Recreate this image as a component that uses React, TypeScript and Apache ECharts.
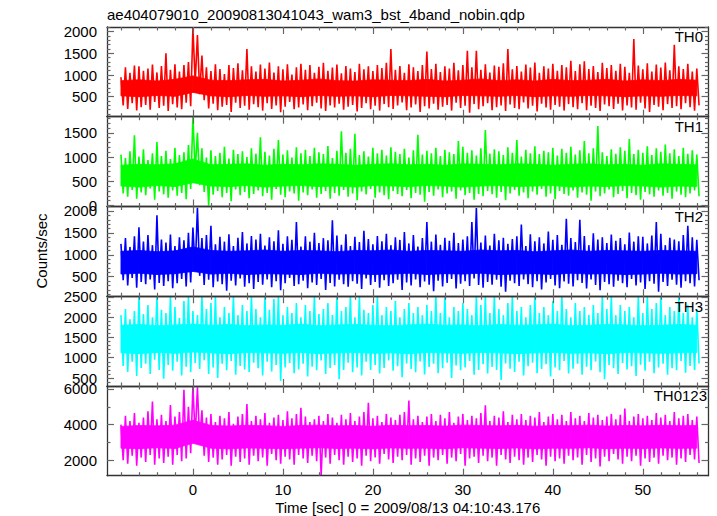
import React, { useEffect, useRef } from 'react';
import * as echarts from 'echarts';

// Time grid of the sampled light curves (seconds, 0 = 2009/08/13 04:10:43.176)
const TIME_START = -8;
const TIME_STEP = 0.5;
// Time grid of the dense core band (the solidly filled part of each curve)
const CORE_START = -8;
const CORE_STEP = 2;

// Local maxima / minima of the count rate in each half-second bin (counts/sec)
const th0Peaks = [
  950, 1180, 1050, 1220, 1200, 1100, 1150, 1240, 1060, 1210,
  1500, 1120, 1250, 1080, 1230, 1300, 2100, 1920, 1450, 1180,
  1090, 1250, 1140, 1020, 1230, 1160, 1270, 1110, 1600, 1200,
  1080, 1240, 1150, 1290, 1060, 1200, 1130, 1250, 1010, 1180,
  1260, 1120, 1230, 1050, 1190, 1280, 1100, 1170, 1240, 1040,
  1210, 1150, 1070, 1260, 1130, 1200, 1090, 1230, 1160, 1280,
  1600, 1120, 1210, 1050, 1250, 1180, 1090, 1230, 1540, 1140,
  1260, 1070, 1200, 1150, 1280, 1110, 1230, 1560, 1180, 1560,
  1120, 1250, 1060, 1220, 1190, 1270, 1600, 1130, 1210, 1080,
  1240, 1170, 1290, 1050, 1200, 1150, 1260, 1100, 1230, 1180,
  1330, 1090, 1250, 1315, 1140, 1210, 1070, 1280, 1160, 1230,
  1100, 1260, 1190, 1050, 1830, 1220, 1130, 1270, 1080, 1240,
  1170, 1290, 1110, 1700, 1200, 1140, 1260, 1080, 1150,
];
const th0Troughs = [
  300, 220, 350, 180, 260, 310, 200, 380, 240, 290,
  170, 330, 250, 210, 360, 280, 820, 560, 420, 230,
  340, 190, 270, 310, 150, 360, 240, 290, 200, 330,
  260, 180, 350, 220, 300, 140, 270, 380, 210, 250,
  320, 190, 280, 360, 230, 170, 300, 250, 340, 200,
  270, 310, 160, 240, 350, 210, 290, 180, 330, 260,
  220, 300, 370, 190, 250, 320, 150, 280, 230, 340,
  200, 270, 310, 180, 360, 240, 290, 130, 330, 210,
  280, 350, 190, 260, 300, 170, 320, 240, 210, 370,
  230, 290, 160, 340, 250, 200, 310, 270, 180, 330,
  260, 210, 350, 190, 290, 240, 170, 320, 280, 220,
  340, 180, 300, 250, 200, 360, 230, 150, 310, 270,
  190, 330, 240, 280, 210, 350, 260, 180, 300,
];
const th1Peaks = [
  1050, 980, 1120, 1450, 1010, 1160, 940, 1080, 1310, 1020,
  1130, 960, 1190, 1040, 1100, 1250, 1830, 1500, 1180, 990,
  1140, 1020, 1090, 1210, 970, 1150, 1060, 1120, 1000, 1180,
  1070, 1410, 1110, 1030, 1170, 1350, 1050, 1140, 990, 1200,
  1080, 1150, 1020, 1190, 1100, 1060, 1230, 980, 1130, 1535,
  1090, 1170, 1480, 1040, 1120, 1010, 1190, 1080, 1150, 1030,
  1200, 1110, 1060, 1170, 990, 1140, 1460, 1050, 1130, 1080,
  1190, 1020, 1150, 1100, 1060, 1330, 1210, 1090, 1140, 1030,
  1180, 1560, 1070, 1160, 1120, 1040, 1200, 1090, 1350, 1010,
  1150, 1080, 1220, 1060, 1130, 1100, 1190, 1030, 1170, 1090,
  1210, 1050, 1140, 1330, 1080, 1180, 1640, 1100, 1020, 1160,
  1070, 1200, 1130, 1370, 1060, 1150, 1090, 1220, 1040, 1180,
  1110, 1260, 1080, 1160, 1020, 1190, 1070, 1140, 1050,
];
const th1Troughs = [
  250, 180, 320, 140, 270, 210, 350, 120, 290, 230,
  160, 310, 200, 260, 130, 340, 700, 420, 280, 0,
  220, 300, 170, 260, 90, 330, 210, 280, 150, 240,
  310, 190, 260, 120, 340, 220, 170, 290, 250, 100,
  270, 210, 330, 160, 240, 300, 140, 260, 200, 320,
  180, 250, 110, 290, 230, 340, 160, 270, 210, 130,
  300, 240, 190, 320, 150, 260, 220, 80, 280, 200,
  330, 170, 250, 290, 140, 310, 210, 260, 120, 240,
  190, 300, 230, 160, 280, 110, 250, 320, 200, 270,
  150, 290, 220, 340, 180, 250, 130, 300, 240, 200,
  310, 160, 270, 220, 100, 290, 190, 250, 330, 170,
  240, 300, 150, 260, 210, 120, 280, 230, 180, 310,
  200, 260, 140, 290, 220, 170, 250, 310, 190,
];
const th2Peaks = [
  1250, 1380, 1180, 1420, 1630, 1300, 1450, 1220, 1900, 1350,
  1280, 1460, 1200, 1400, 1330, 1500, 1620, 2075, 1380, 1450,
  1660, 1240, 1410, 1300, 1470, 1200, 1390, 1520, 1260, 1430,
  1350, 1480, 1210, 1400, 1310, 1560, 1250, 1420, 1340, 1750,
  1190, 1420, 1300, 1500, 1270, 1380, 1330, 1790, 1440, 1230,
  1470, 1200, 1410, 1290, 1550, 1360, 1240, 1430, 1310, 1480,
  1220, 1400, 1340, 1520, 1260, 1450, 1190, 1380, 1750, 1300,
  1460, 1230, 1390, 1320, 1500, 1270, 1350, 1420, 1750, 2070,
  1280, 1440, 1210, 1480, 1330, 1390, 1250, 1360, 1420, 1690,
  1200, 1470, 1310, 1400, 1260, 1530, 1340, 1450, 1230, 1820,
  1380, 1290, 1800, 1430, 1220, 1490, 1350, 1400, 1270, 1460,
  1320, 1380, 1240, 1510, 1300, 1420, 1410, 1260, 1440, 1750,
  1480, 1220, 1390, 1350, 1310, 1450, 1660, 1400, 1340,
];
const th2Troughs = [
  420, 300, 470, 250, 380, 330, 440, 210, 360, 290,
  400, 240, 350, 450, 280, 370, 650, 520, 310, 430,
  260, 390, 330, 180, 410, 300, 460, 270, 350, 220,
  380, 320, 440, 260, 400, 190, 350, 470, 290, 330,
  410, 240, 370, 310, 450, 200, 360, 280, 430, 330,
  270, 400, 340, 220, 460, 310, 380, 250, 420, 290,
  350, 430, 200, 370, 300, 440, 260, 390, 320, 170,
  410, 280, 360, 450, 230, 340, 400, 290, 460, 310,
  250, 380, 320, 430, 270, 160, 410, 350, 290, 440,
  330, 260, 400, 210, 370, 450, 300, 240, 390, 340,
  280, 420, 360, 230, 440, 310, 190, 380, 330, 270,
  410, 350, 260, 450, 300, 370, 220, 400, 340, 160,
  380, 290, 430, 320, 250, 400, 350, 280, 420,
];
const th3Peaks = [
  2050, 2200, 1950, 2150, 2520, 2080, 2300, 2000, 2520, 2180,
  2100, 2520, 2250, 1980, 2400, 2520, 2150, 2050, 2520, 2200,
  2350, 2520, 2000, 2250, 2100, 2520, 2050, 2300, 2150, 2520,
  2200, 2000, 2520, 2180, 2450, 2520, 2050, 2250, 2100, 2350,
  2000, 2300, 2150, 2520, 2080, 2200, 2350, 2050, 2520, 2150,
  2250, 2520, 2000, 2520, 2180, 2100, 2300, 2520, 2050, 2250,
  2150, 2400, 2000, 2200, 2350, 2100, 2250, 2050, 2300, 2150,
  2520, 2100, 2520, 2000, 2250, 2150, 2350, 2200, 2050, 2520,
  2300, 2520, 2100, 2520, 2200, 2050, 2350, 2520, 2150, 2250,
  2000, 2300, 2520, 2100, 2250, 2050, 2400, 2150, 2520, 2200,
  2000, 2350, 2150, 2250, 2050, 2300, 2100, 2520, 2200, 2520,
  2050, 2300, 2150, 2250, 2000, 2520, 2100, 2520, 2200, 2350,
  2520, 2050, 2250, 2150, 2520, 2100, 2300, 2000, 2200,
];
const th3Troughs = [
  800, 650, 900, 550, 750, 850, 600, 950, 700, 480,
  820, 680, 900, 560, 780, 640, 870, 720, 940, 600,
  760, 500, 850, 690, 920, 580, 800, 710, 650, 880,
  740, 560, 900, 660, 820, 430, 760, 870, 620, 710,
  850, 540, 780, 690, 930, 600, 750, 820, 470, 700,
  880, 640, 760, 560, 900, 700, 820, 610, 750, 930,
  680, 790, 520, 860, 720, 640, 910, 590, 770, 850,
  620, 740, 880, 500, 810, 690, 760, 920, 580, 700,
  840, 610, 770, 700, 450, 860, 730, 650, 900, 560,
  790, 880, 620, 720, 840, 540, 760, 690, 920, 610,
  730, 850, 580, 780, 690, 910, 640, 470, 820, 740,
  600, 870, 710, 790, 550, 830, 680, 900, 620, 760,
  850, 580, 740, 690, 920, 630, 800, 700, 860,
];
const th0123Peaks = [
  4000, 4500, 4200, 4650, 4100, 4400, 4750, 5300, 4300, 4550,
  4200, 5100, 4450, 4700, 5950, 5000, 6170, 6100, 4800, 4400,
  4600, 4150, 4500, 4350, 4700, 4050, 4450, 4600, 5150, 4200,
  4500, 4300, 4650, 4100, 4400, 4550, 4250, 4750, 4350, 4600,
  4950, 4450, 4150, 4300, 4500, 4200, 4600, 4400, 4100, 4550,
  4300, 4650, 4200, 4450, 4700, 5230, 4350, 4500, 4150, 4600,
  4400, 4250, 4550, 4700, 5350, 4300, 4500, 4150, 4450, 4600,
  4200, 4550, 4350, 4700, 4100, 4450, 4600, 4250, 4500, 4350,
  4650, 5080, 4200, 4500, 4400, 4750, 4150, 4550, 4300, 4600,
  4250, 4500, 4400, 4700, 4150, 4450, 4600, 4300, 4550, 4200,
  4700, 4350, 4500, 4200, 4650, 4400, 4550, 4250, 4450, 4600,
  4300, 4550, 4900, 4200, 4450, 4600, 4350, 4500, 4250, 4650,
  4400, 4550, 4200, 4700, 4350, 4500, 4600, 4250, 4450,
];
const th0123Troughs = [
  2000, 1800, 2250, 1700, 2150, 1900, 2300, 1750, 2100, 1850,
  2200, 1750, 2300, 1950, 2100, 2400, 3300, 3000, 2250, 1900,
  2150, 1750, 2050, 2300, 1700, 2200, 1900, 2100, 1750, 2250,
  1950, 2150, 1700, 2350, 2000, 1800, 2200, 2050, 1750, 2300,
  2100, 1850, 2250, 1950, 1150, 2150, 1800, 2300, 2000, 1750,
  2200, 1900, 2100, 1700, 2250, 1950, 2150, 1800, 2350, 2050,
  1850, 2200, 2000, 2300, 1750, 2100, 1900, 2250, 1700, 2150,
  2000, 2300, 1800, 2150, 1950, 2350, 1700, 2100, 2200, 1850,
  2250, 1950, 2150, 1700, 2300, 2050, 1850, 2200, 2000, 1750,
  2150, 1900, 2300, 2050, 1700, 2200, 1950, 2100, 1800, 2250,
  2000, 2150, 1750, 2300, 1900, 2100, 1650, 2200, 1950, 2350,
  2050, 1800, 2200, 1950, 2250, 1700, 2100, 1900, 2150, 1800,
  2250, 2000, 2150, 1750, 2100, 1900, 2300, 2050, 1850,
];

// Upper / lower edge of the fully saturated core of each curve, every 2 s (counts/sec)
const th0CoreHigh = [870, 890, 860, 900, 980, 880, 870, 890, 900, 860, 880, 910, 870, 860, 890, 880, 870, 900, 860, 880, 910, 870, 890, 860, 900, 870, 880, 900, 860, 890, 870, 900, 880];
const th0CoreLow = [520, 500, 530, 510, 600, 520, 500, 530, 510, 520, 500, 530, 510, 520, 500, 530, 520, 510, 500, 530, 520, 510, 530, 500, 520, 510, 530, 520, 500, 520, 510, 530, 520];
const th1CoreHigh = [830, 850, 840, 860, 960, 840, 850, 860, 830, 850, 840, 860, 850, 830, 850, 860, 840, 850, 830, 860, 850, 840, 860, 850, 830, 850, 860, 840, 850, 830, 860, 850, 840];
const th1CoreLow = [400, 380, 410, 390, 470, 400, 390, 410, 380, 400, 410, 390, 400, 380, 410, 400, 390, 410, 400, 380, 400, 410, 390, 400, 410, 380, 400, 390, 410, 400, 380, 400, 390];
const th2CoreHigh = [1080, 1100, 1070, 1090, 1180, 1100, 1080, 1090, 1110, 1080, 1100, 1090, 1070, 1100, 1090, 1110, 1080, 1100, 1090, 1080, 1110, 1090, 1100, 1070, 1090, 1110, 1080, 1100, 1090, 1080, 1100, 1090, 1080];
const th2CoreLow = [560, 580, 550, 570, 620, 560, 580, 550, 570, 560, 550, 580, 560, 570, 550, 560, 580, 550, 570, 560, 580, 550, 560, 570, 550, 580, 560, 570, 550, 560, 580, 560, 570];
const th3CoreHigh = [1800, 1820, 1790, 1810, 1830, 1800, 1820, 1790, 1810, 1800, 1830, 1790, 1810, 1820, 1800, 1790, 1810, 1830, 1800, 1810, 1790, 1820, 1800, 1810, 1830, 1790, 1800, 1820, 1810, 1790, 1800, 1820, 1800];
const th3CoreLow = [1120, 1100, 1130, 1110, 1140, 1120, 1100, 1130, 1120, 1110, 1130, 1100, 1120, 1130, 1110, 1120, 1100, 1130, 1120, 1110, 1130, 1120, 1100, 1120, 1130, 1110, 1120, 1100, 1130, 1120, 1110, 1120, 1130];
const th0123CoreHigh = [3900, 3950, 3930, 3970, 4250, 3950, 3920, 3960, 3940, 3900, 3950, 3970, 3930, 3950, 3910, 3960, 3940, 3950, 3920, 3970, 3950, 3930, 3960, 3910, 3950, 3940, 3970, 3920, 3950, 3930, 3960, 3940, 3950];
const th0123CoreLow = [2680, 2650, 2700, 2660, 2950, 2680, 2640, 2690, 2670, 2650, 2680, 2700, 2660, 2680, 2640, 2690, 2670, 2680, 2650, 2700, 2680, 2660, 2690, 2640, 2680, 2670, 2700, 2650, 2680, 2660, 2690, 2670, 2680];

const panelNames = ['TH0', 'TH1', 'TH2', 'TH3', 'TH0123'];
const panelColors = ['#ff0000', '#00ff00', '#0000ff', '#00ffff', '#ff00ff'];
const panelPeaks = [th0Peaks, th1Peaks, th2Peaks, th3Peaks, th0123Peaks];
const panelTroughs = [th0Troughs, th1Troughs, th2Troughs, th3Troughs, th0123Troughs];
const panelCoreHigh = [th0CoreHigh, th1CoreHigh, th2CoreHigh, th3CoreHigh, th0123CoreHigh];
const panelCoreLow = [th0CoreLow, th1CoreLow, th2CoreLow, th3CoreLow, th0123CoreLow];
const yMins = [38, -21, 55, 304, 1133];
const yMaxs = [2108, 1833, 2103, 2517, 6169];
const yTickLabels = [
  [500, 1000, 1500, 2000],
  [0, 500, 1000, 1500],
  [500, 1000, 1500, 2000],
  [500, 1000, 1500, 2000, 2500],
  [2000, 4000, 6000],
];
const yMinorSteps = [100, 100, 100, 100, 1000];
const xMin = -9.55;
const xMax = 57.3;
const xTickLabels = [0, 10, 20, 30, 40, 50];
const xMinorStep = 2;

const titleText = 'ae404079010_20090813041043_wam3_bst_4band_nobin.qdp';
const yTitle = 'Counts/sec';
const xTitle = 'Time [sec] 0 = 2009/08/13 04:10:43.176';

const FONT = '"Liberation Sans", Arial, Helvetica, sans-serif';

function buildSeriesData(peaks: number[], troughs: number[]) {
  const out: number[][] = [];
  for (let i = 0; i < peaks.length; i++) {
    const t = TIME_START + i * TIME_STEP;
    out.push([t, peaks[i]]);
    out.push([t + TIME_STEP / 2, troughs[i]]);
  }
  return out;
}

function buildCoreData(lo: number[], hi: number[]) {
  const out: number[][] = [];
  for (let i = 0; i < lo.length - 1; i++) {
    const t0 = CORE_START + i * CORE_STEP;
    const t1 = t0 + CORE_STEP;
    out.push([t0, lo[i], hi[i], t1, lo[i + 1], hi[i + 1]]);
  }
  return out;
}

function stepValues(lo: number, hi: number, step: number) {
  const out: number[] = [];
  const start = Math.ceil(lo / step) * step;
  for (let v = start; v <= hi + 1e-9; v += step) out.push(Math.round(v * 1000) / 1000);
  return out;
}

export default function App() {
  const ref = useRef<HTMLDivElement>(null);
  useEffect(() => {
    if (!ref.current) return;
    const chart = echarts.init(ref.current, undefined, { renderer: 'svg' });

    const GRID_LEFT = 107;
    const GRID_RIGHT = 8.5;
    const GRID_TOP = 27;
    const PANEL_H = 89.74;
    const frameColor = '#333';
    const tickColor = '#666';
    const plain = (v: number) => String(v);

    const grids: any[] = [];
    const xAxes: any[] = [];
    const yAxes: any[] = [];
    const series: any[] = [];
    const graphics: any[] = [];

    const xMajor = xTickLabels;
    const xMinor = stepValues(-8, 56, xMinorStep).filter((v) => v % 10 !== 0);

    for (let g = 0; g < 5; g++) {
      const top = GRID_TOP + g * PANEL_H;
      grids.push({ left: GRID_LEFT, right: GRID_RIGHT, top, height: PANEL_H, containLabel: false });
      const isBottom = g === 4;
      const mkX = (position: string, ticks: number[], len: number, labels: boolean, line: boolean) => ({
        type: 'value',
        gridIndex: g,
        position,
        min: xMin,
        max: xMax,
        axisLine: { show: line, onZero: false, lineStyle: { color: frameColor, width: 1.3 } },
        axisTick: { show: true, inside: true, length: len, customValues: ticks, lineStyle: { color: tickColor, width: 1.2 } },
        axisLabel: labels
          ? { show: true, customValues: xTickLabels, formatter: plain, color: '#000', fontSize: 15, fontFamily: FONT, margin: 6 }
          : { show: false },
        splitLine: { show: false },
        z: 5,
      });
      xAxes.push(mkX('bottom', xMajor, 7, isBottom, true));
      xAxes.push(mkX('bottom', xMinor, 3.5, false, false));
      xAxes.push(mkX('top', xMajor, 7, false, true));
      xAxes.push(mkX('top', xMinor, 3.5, false, false));

      const majorY = yTickLabels[g];
      const minorY = stepValues(yMins[g], yMaxs[g], yMinorSteps[g]).filter((v) => !majorY.includes(v));
      const mkY = (position: string, ticks: number[], len: number, labels: boolean, line: boolean) => ({
        type: 'value',
        gridIndex: g,
        position,
        min: yMins[g],
        max: yMaxs[g],
        axisLine: { show: line, onZero: false, lineStyle: { color: frameColor, width: 1.3 } },
        axisTick: { show: true, inside: true, length: len, customValues: ticks, lineStyle: { color: tickColor, width: 1.2 } },
        axisLabel: labels
          ? { show: true, customValues: majorY, formatter: plain, color: '#000', fontSize: 15, fontFamily: FONT, margin: 10 }
          : { show: false },
        splitLine: { show: false },
        z: 5,
      });
      yAxes.push(mkY('left', majorY, 7, true, true));
      yAxes.push(mkY('left', minorY, 3.5, false, false));
      yAxes.push(mkY('right', majorY, 7, false, true));
      yAxes.push(mkY('right', minorY, 3.5, false, false));

      const color = panelColors[g];
      series.push({
        type: 'custom',
        name: panelNames[g] + ' core',
        xAxisIndex: g * 4,
        yAxisIndex: g * 4,
        data: buildCoreData(panelCoreLow[g], panelCoreHigh[g]),
        encode: { x: [0, 3], y: [1, 2, 4, 5] },
        clip: true,
        silent: true,
        z: 1,
        renderItem: (params: any, api: any) => {
          const a = api.coord([api.value(0), api.value(2)]);
          const b = api.coord([api.value(3), api.value(5)]);
          const c = api.coord([api.value(3), api.value(4)]);
          const d = api.coord([api.value(0), api.value(1)]);
          return {
            type: 'polygon',
            shape: { points: [a, b, c, d] },
            style: { fill: color, stroke: color, lineWidth: 0.8 },
          };
        },
      });
      series.push({
        type: 'line',
        name: panelNames[g],
        xAxisIndex: g * 4,
        yAxisIndex: g * 4,
        data: buildSeriesData(panelPeaks[g], panelTroughs[g]),
        showSymbol: false,
        symbol: 'none',
        clip: true,
        lineStyle: { color, width: 1.6 },
        z: 2,
      });

      graphics.push({
        type: 'text',
        right: g === 4 ? 10 : 14,
        top: top + 10.3 - 8,
        style: { text: panelNames[g], fill: '#000', font: `15px ${FONT}` },
        z: 10,
      });
    }

    graphics.push({
      type: 'text',
      left: 107,
      top: 7,
      style: { text: titleText, fill: '#000', font: `15px ${FONT}` },
    });
    graphics.push({
      type: 'text',
      x: 41,
      y: 251,
      rotation: Math.PI / 2,
      style: { text: yTitle, fill: '#000', font: `15px ${FONT}`, align: 'center', verticalAlign: 'middle' },
    });
    graphics.push({
      type: 'text',
      x: 407.7,
      y: 507,
      style: { text: xTitle, fill: '#000', font: `15px ${FONT}`, align: 'center', verticalAlign: 'middle' },
    });

    chart.setOption({
      animation: false,
      backgroundColor: '#ffffff',
      grid: grids,
      xAxis: xAxes,
      yAxis: yAxes,
      series,
      graphic: graphics,
    });
    return () => chart.dispose();
  }, []);
  return <div ref={ref} style={{ position: 'fixed', left: 0, top: 0, width: 717, height: 516 }} />;
}
